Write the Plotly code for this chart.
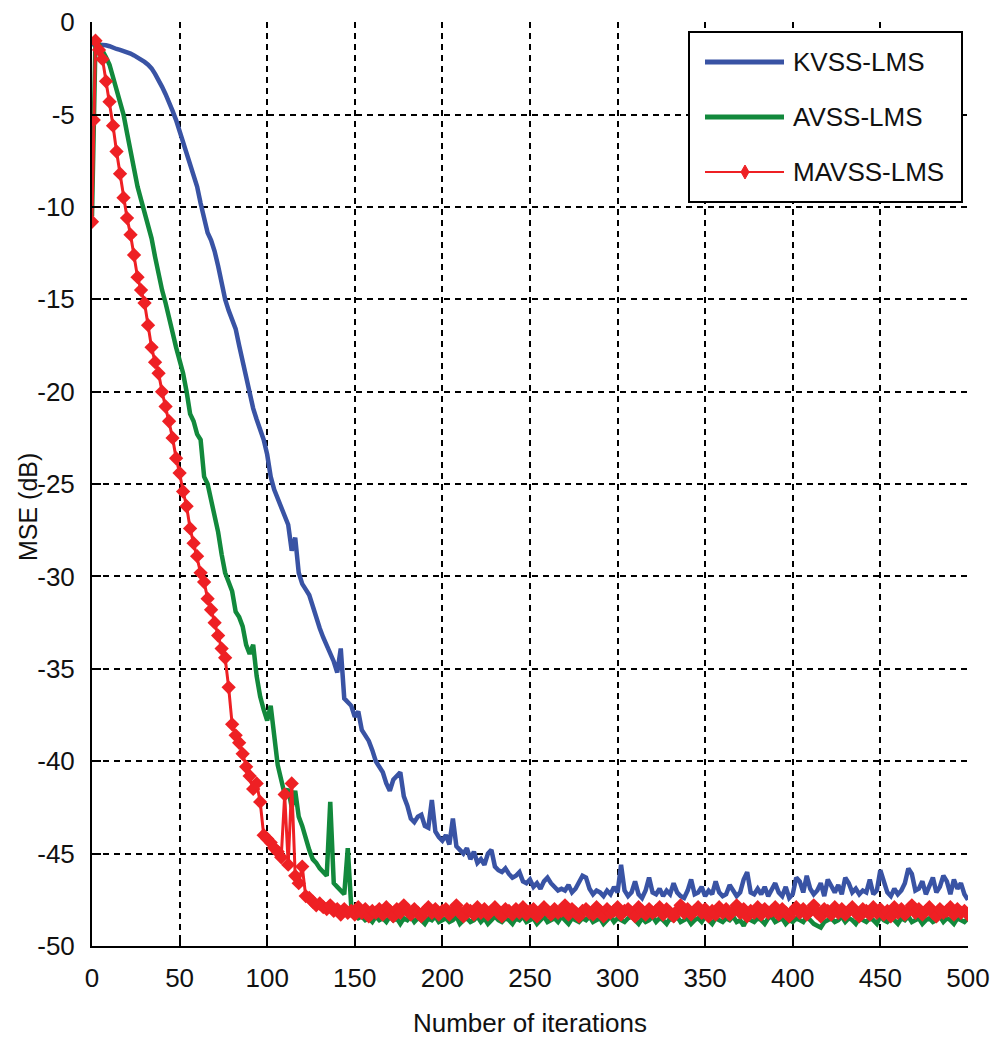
import plotly.graph_objects as go

# iteration index (x axis)
iterations = [0, 1] + list(range(2, 501, 2))

kvss_lms = [
    -1.2, -1.2,
    -1.2, -1.2, -1.2, -1.25, -1.3, -1.4, -1.45, -1.5, -1.55, -1.6,
    -1.7, -1.8, -1.9, -2.0, -2.15, -2.3, -2.5, -2.8, -3.1, -3.5,
    -3.9, -4.3, -4.8, -5.3, -5.9, -6.4, -6.9, -7.5, -8.1, -8.9,
    -9.8, -10.7, -11.4, -11.8, -12.4, -13.2, -14.1, -15.0, -15.6, -16.1,
    -16.6, -17.5, -18.4, -19.3, -20.1, -20.9, -21.5, -22.0, -22.6, -23.4,
    -24.6, -25.3, -25.8, -26.3, -26.8, -27.2, -28.6, -27.9, -29.8, -30.4,
    -30.7, -31.0, -31.6, -32.3, -32.8, -33.3, -33.7, -34.1, -34.6, -35.2,
    -33.9, -36.6, -36.8, -37.0, -37.6, -37.3, -38.3, -38.6, -38.9, -39.4,
    -40.0, -40.3, -40.6, -41.2, -41.6, -41.0, -40.8, -40.6, -41.9, -42.4,
    -43.1, -43.3, -43.0, -42.9, -43.5, -43.6, -42.1, -43.8, -44.1, -44.3,
    -44.0, -44.5, -43.1, -44.6, -44.8, -45.0, -44.7, -45.3, -44.9, -45.5,
    -45.3, -45.6, -45.0, -44.8, -45.7, -45.9, -46.0, -45.8, -46.1, -46.3,
    -46.2, -46.0, -46.5, -46.6, -46.4, -46.8, -46.6, -46.9, -46.5, -46.3,
    -46.6, -46.8, -47.0, -46.9, -47.0, -46.7, -47.1, -46.9, -46.5, -46.2,
    -46.3, -46.9, -47.2, -47.0, -47.1, -47.3, -47.0, -47.2, -46.8, -47.1,
    -45.6, -47.0, -47.3, -47.1, -46.5, -47.2, -47.4, -47.0, -46.3, -47.1,
    -47.2, -46.9, -47.3, -47.0, -47.2, -46.6, -47.1, -47.3, -47.4, -47.0,
    -46.4, -47.2, -47.1, -46.8, -47.3, -47.0, -47.2, -46.5, -47.1, -47.3,
    -47.2, -46.7, -47.0, -47.3, -47.1, -46.4, -46.0, -47.1, -47.2, -46.9,
    -47.2, -46.8, -47.3, -47.0, -46.6, -47.1, -47.3, -46.8, -47.4, -47.2,
    -46.3, -46.5, -47.1, -46.2, -46.9, -47.2, -47.0, -46.6, -47.3, -46.4,
    -46.8, -47.1, -46.7, -47.2, -46.3, -46.6, -47.1, -46.9, -47.2, -47.0,
    -47.1, -46.4, -47.2, -47.0, -45.9, -46.6, -47.1, -47.3, -46.9, -47.2,
    -47.0, -46.6, -45.8, -46.1, -47.0, -46.9, -46.5, -47.2, -46.8, -46.3,
    -47.1, -46.8, -46.2, -46.5, -47.2, -46.4, -46.9, -46.6, -47.2, -47.5,
]

avss_lms = [
    -10.5, -5.5,
    -1.0, -1.2, -1.5, -1.9, -2.3, -3.0, -3.6, -4.3, -5.0, -6.0,
    -7.0, -7.9, -8.9, -9.6, -10.3, -11.0, -11.7, -12.7, -13.7, -14.5,
    -15.2, -16.1, -16.8, -17.6, -18.3, -19.0, -20.0, -21.2, -21.6, -22.3,
    -22.6, -24.6, -25.0, -25.9, -26.6, -27.6, -28.8, -29.8, -30.3, -30.8,
    -31.9, -32.2, -32.7, -33.7, -34.2, -33.7, -35.4, -36.5, -37.2, -37.8,
    -37.0, -38.8, -40.2, -41.0, -41.8, -41.5, -42.5, -41.6, -43.0, -43.5,
    -44.2, -44.8, -45.3, -45.5, -45.8, -46.0, -46.2, -42.2, -46.6, -46.8,
    -47.0, -47.2, -44.7, -47.9, -48.3, -48.5, -48.4, -48.6, -48.5, -48.7,
    -48.4, -48.6, -48.5, -48.7, -48.4, -48.6, -48.5, -48.8, -48.5, -48.6,
    -48.4, -48.7, -48.5, -48.6, -48.8, -48.5, -48.6, -48.4, -48.7, -48.6,
    -48.5, -48.7, -48.6, -48.4, -48.8, -48.6, -48.5, -48.7, -48.6, -48.4,
    -48.7, -48.5, -48.8, -48.6, -48.4, -48.6, -48.7, -48.5, -48.6, -48.8,
    -48.5, -48.6, -48.4, -48.7, -48.6, -48.5, -48.8, -48.6, -48.4, -48.7,
    -48.6, -48.5, -48.7, -48.4, -48.6, -48.8, -48.5, -48.6, -48.7, -48.5,
    -48.6, -48.4, -48.7, -48.6, -48.5, -48.8, -48.6, -48.4, -48.7, -48.5,
    -48.6, -48.7, -48.5, -48.4, -48.6, -48.8, -48.5, -48.7, -48.6, -48.4,
    -48.7, -48.5, -48.6, -48.8, -48.5, -48.6, -48.4, -48.7, -48.6, -48.5,
    -48.8, -48.6, -48.5, -48.7, -48.4, -48.6, -48.8, -48.5, -48.6, -48.7,
    -48.5, -48.6, -48.4, -48.7, -48.6, -48.9, -48.5, -48.6, -48.7, -48.5,
    -48.6, -48.8, -48.5, -48.4, -48.7, -48.6, -48.5, -48.8, -48.6, -48.7,
    -48.5, -48.6, -48.7, -48.4, -48.6, -48.8, -48.9, -49.0, -48.7, -48.6,
    -48.5, -48.7, -48.6, -48.4, -48.7, -48.5, -48.6, -48.8, -48.5, -48.6,
    -48.7, -48.5, -48.6, -48.8, -48.4, -48.6, -48.7, -48.5, -48.6, -48.8,
    -48.5, -48.6, -48.4, -48.7, -48.6, -48.5, -48.8, -48.6, -48.5, -48.7,
    -48.6, -48.4, -48.7, -48.5, -48.6, -48.8, -48.5, -48.6, -48.7, -48.5,
]

mavss_lms = [
    -10.8, -5.3,
    -1.0, -1.5, -2.0, -3.2, -4.3, -5.6, -7.0, -8.2, -9.5, -10.6,
    -11.5, -12.6, -13.8, -14.5, -15.2, -16.4, -17.6, -18.4, -19.0, -20.0,
    -20.8, -21.6, -22.5, -23.6, -24.4, -25.4, -26.2, -27.4, -28.2, -28.9,
    -29.8, -30.3, -31.2, -31.8, -32.5, -33.2, -33.9, -34.4, -36.0, -38.0,
    -38.6, -39.0, -39.6, -40.3, -40.8, -41.5, -41.2, -42.2, -44.0, -44.2,
    -44.4, -44.7, -44.9, -45.2, -41.8, -45.6, -41.2, -46.2, -46.6, -45.7,
    -47.3, -47.4, -47.6, -47.8, -47.7, -47.9, -48.0, -47.8, -48.1, -48.0,
    -48.3, -48.0, -48.2, -48.1, -48.3, -47.9, -48.2, -48.0, -48.4, -48.1,
    -48.2, -48.0, -48.3, -47.9, -48.1, -48.4, -48.0, -48.2, -47.8, -48.1,
    -48.3, -48.0, -48.2, -48.4, -48.1, -47.9, -48.2, -48.0, -48.3, -48.1,
    -48.0, -48.3, -48.1, -47.8, -48.2, -48.4, -48.0, -48.1, -48.3, -47.9,
    -48.2, -48.0, -48.3, -48.1, -47.9, -48.2, -48.4, -48.0, -48.1, -48.3,
    -48.0, -48.2, -47.9, -48.3, -48.1, -48.0, -48.4, -48.2, -47.9, -48.1,
    -48.3, -48.0, -48.2, -48.1, -47.8, -48.3, -48.0, -48.2, -48.4, -48.1,
    -48.0, -48.2, -48.3, -47.9, -48.1, -48.4, -48.0, -48.2, -48.1, -47.9,
    -48.3, -48.1, -48.0, -48.2, -48.4, -47.9, -48.1, -48.3, -48.0, -48.2,
    -48.1, -47.9, -48.3, -48.0, -48.2, -48.4, -48.1, -47.8, -48.2, -48.0,
    -48.3, -48.1, -47.9, -48.2, -48.0, -48.4, -48.1, -48.3, -47.9, -48.2,
    -48.0, -48.3, -48.1, -47.8, -48.2, -48.0, -48.4, -48.1, -48.2, -47.9,
    -48.3, -48.0, -48.2, -48.1, -47.9, -48.3, -48.0, -48.2, -48.4, -48.1,
    -47.9, -48.2, -48.0, -48.3, -48.1, -47.8, -48.2, -48.4, -48.0, -48.1,
    -48.3, -47.9, -48.2, -48.0, -48.3, -48.1, -47.9, -48.2, -48.4, -48.0,
    -48.1, -48.3, -47.9, -48.2, -48.0, -48.3, -48.1, -48.4, -47.9, -48.2,
    -48.0, -48.3, -48.1, -47.8, -48.2, -48.0, -48.3, -48.1, -47.9, -48.2,
    -48.4, -48.0, -48.2, -48.1, -47.9, -48.3, -48.0, -48.2, -48.1, -48.3,
]

x_ticks = [0, 50, 100, 150, 200, 250, 300, 350, 400, 450, 500]
x_tick_labels = ["0", "50", "100", "150", "200", "250", "300", "350", "400", "450", "500"]
y_ticks = [-50, -45, -40, -35, -30, -25, -20, -15, -10, -5, 0]
y_tick_labels = ["-50", "-45", "-40", "-35", "-30", "-25", "-20", "-15", "-10", "-5", "0"]
series_names = ["KVSS-LMS", "AVSS-LMS", "MAVSS-LMS"]
colors = ["#3953A4", "#12893C", "#EE2024"]

assert len(kvss_lms) == len(iterations)
assert len(avss_lms) == len(iterations)
assert len(mavss_lms) == len(iterations)

FONT = "Liberation Sans, Arial, sans-serif"
FS = 26
TXT = "#111111"

fig = go.Figure()
fig.add_trace(go.Scatter(x=iterations, y=kvss_lms, mode="lines", name=series_names[0],
                         line=dict(color=colors[0], width=4.5), showlegend=False))
fig.add_trace(go.Scatter(x=iterations, y=avss_lms, mode="lines", name=series_names[1],
                         line=dict(color=colors[1], width=4.5), showlegend=False))
fig.add_trace(go.Scatter(x=iterations, y=mavss_lms, mode="lines+markers", name=series_names[2],
                         line=dict(color=colors[2], width=3),
                         marker=dict(symbol="diamond", size=11, color=colors[2],
                                     line=dict(width=0)),
                         showlegend=False))

axis_common = dict(
    showgrid=True, gridcolor="black", gridwidth=2, griddash="6px,5px",
    showline=True, linecolor="black", linewidth=2, mirror=False,
    ticks="inside", ticklen=9, tickwidth=2, tickcolor="black",
    zeroline=False, automargin=False,
    tickfont=dict(family=FONT, size=FS, color=TXT),
)

fig.update_xaxes(range=[0, 500.05], tickvals=x_ticks, ticktext=x_tick_labels, ticklabelstandoff=8,
                 title=dict(text="Number of iterations", font=dict(family=FONT, size=FS, color=TXT),
                            standoff=22),
                 **axis_common)
fig.update_yaxes(range=[-50, 0.01], tickvals=y_ticks, ticktext=y_tick_labels, ticklabelstandoff=10,
                 **axis_common)

# Legend and y-axis title (placed in plot-area paper coordinates)
W, H = 876.0, 924.0
L0, T0 = 92.0, 22.0


def px(xp):
    return (xp - L0) / W


def py(yp):
    return 1 - (yp - T0) / H


shapes = [dict(type="rect", xref="paper", yref="paper", x0=px(689), x1=px(962), y0=py(202), y1=py(32),
               line=dict(color="black", width=2), fillcolor="white", layer="above")]
annotations = [dict(xref="paper", yref="paper", x=px(28), y=py(507), xanchor="center", yanchor="middle",
                    text="MSE (dB)", textangle=-90, showarrow=False,
                    font=dict(family=FONT, size=25, color=TXT))]
rows = [62, 117, 172]
for i, (nm, col) in enumerate(zip(series_names, colors)):
    yy = py(rows[i])
    shapes.append(dict(type="line", xref="paper", yref="paper", x0=px(705), x1=px(784), y0=yy, y1=yy,
                       line=dict(color=col, width=5 if i < 2 else 2), layer="above"))
    annotations.append(dict(xref="paper", yref="paper", x=px(791), y=yy, xanchor="left", yanchor="middle",
                            text=nm, showarrow=False, font=dict(family=FONT, size=FS, color=TXT)))
# diamond marker for MAVSS legend entry
cx, cy = px(745), py(rows[2])
dx, dy = 4 / W, 7 / H
shapes.append(dict(type="path", xref="paper", yref="paper",
                   path=f"M {cx},{cy+dy} L {cx+dx},{cy} L {cx},{cy-dy} L {cx-dx},{cy} Z",
                   fillcolor=colors[2], line=dict(color=colors[2], width=1), layer="above"))

fig.update_layout(
    width=992, height=1043,
    margin=dict(l=92, r=24, t=22, b=97),
    paper_bgcolor="white", plot_bgcolor="white",
    shapes=shapes, annotations=annotations,
    showlegend=False,
    font=dict(family=FONT, color=TXT),
)

fig.write_html("out.html")
